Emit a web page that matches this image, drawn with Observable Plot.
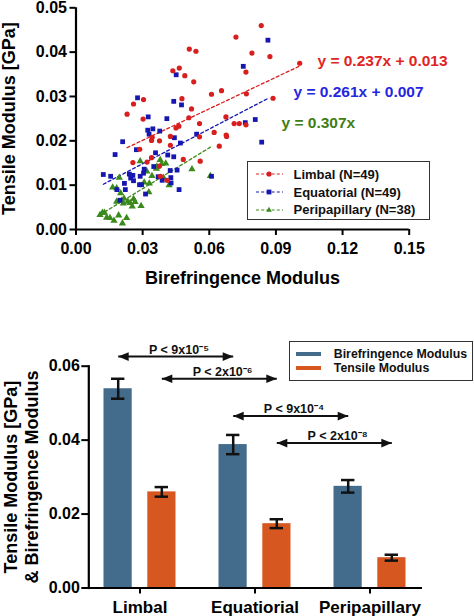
<!DOCTYPE html>
<html>
<head>
<meta charset="utf-8">
<script src="https://cdn.jsdelivr.net/npm/d3@7"></script>
<script src="https://cdn.jsdelivr.net/npm/@observablehq/plot@0.6"></script>
<style>
  body { margin: 0; background: #fff; font-family: "Liberation Sans", Arial, sans-serif; }
  #wrap { position: relative; width: 474px; height: 616px; overflow: hidden; }
  #wrap svg.plot { display: block; }
  .legend { position: absolute; box-sizing: border-box; border: 1.5px solid #333; background: #fff; font-weight: bold; color: #111; }
  .legend .row { position: absolute; display: flex; align-items: center; white-space: nowrap; }
</style>
</head>
<body>
<div id="wrap"></div>
<script>
// ---------------- Scatter data (top panel) ----------------
const series = ["Limbal", "Equatorial", "Peripapillary"];
const seriesN = [49, 49, 38];
const fitSlope = [0.237, 0.261, 0.307];
const fitIntercept = [0.013, 0.007, 0];
const fitLabels = ["y = 0.237x + 0.013", "y = 0.261x + 0.007", "y = 0.307x"];
const xTicks = [0, 0.03, 0.06, 0.09, 0.12, 0.15];
const yTicks = [0, 0.01, 0.02, 0.03, 0.04, 0.05];

const limbalX = [0.0834, 0.072, 0.051, 0.054, 0.0792, 0.0873, 0.1007, 0.0765, 0.0465, 0.0436,
  0.049, 0.053, 0.061, 0.0655, 0.0767, 0.0887, 0.0477, 0.0304, 0.0259, 0.023,
  0.052, 0.0508, 0.0302, 0.0675, 0.0463, 0.045, 0.0556, 0.0712, 0.0735, 0.0765,
  0.0622, 0.0676, 0.0678, 0.0556, 0.0425, 0.0343, 0.0376, 0.034, 0.0287, 0.0645,
  0.0425, 0.0483, 0.034, 0.0256, 0.0559, 0.032, 0.0376, 0.038, 0.041];
const limbalY = [0.046, 0.0434, 0.0407, 0.0402, 0.0398, 0.039, 0.0375, 0.0355, 0.0364, 0.0358,
  0.0347, 0.0333, 0.0305, 0.0313, 0.0306, 0.0296, 0.0295, 0.0293, 0.0283, 0.026,
  0.0272, 0.0252, 0.0249, 0.0254, 0.0233, 0.0229, 0.0239, 0.0239, 0.0239, 0.0236,
  0.0219, 0.0213, 0.021, 0.0209, 0.021, 0.0208, 0.02, 0.0201, 0.0181, 0.0188,
  0.019, 0.0158, 0.0162, 0.0151, 0.0154, 0.0152, 0.0143, 0.012, 0.0111];

const equatorialX = [0.0864, 0.0753, 0.0451, 0.0277, 0.044, 0.0475, 0.0325, 0.0409, 0.0807, 0.0762,
  0.0323, 0.0346, 0.0329, 0.0377, 0.0543, 0.021, 0.0443, 0.047, 0.0836, 0.0272,
  0.0176, 0.0358, 0.0413, 0.044, 0.035, 0.0307, 0.0123, 0.0156, 0.024, 0.0246,
  0.0304, 0.0424, 0.0455, 0.061, 0.037, 0.0289, 0.0427, 0.0259, 0.0388, 0.0218,
  0.0295, 0.0428, 0.0184, 0.0222, 0.0464, 0.0313, 0.0198, 0.0286, 0.0256];
const equatorialY = [0.0427, 0.0368, 0.0349, 0.0297, 0.0289, 0.0281, 0.0254, 0.025, 0.0248, 0.0241,
  0.0224, 0.0227, 0.0215, 0.0222, 0.0215, 0.0198, 0.0207, 0.0195, 0.0197, 0.018,
  0.0169, 0.0173, 0.0168, 0.0164, 0.0142, 0.0136, 0.0124, 0.012, 0.0125, 0.0116,
  0.0127, 0.0133, 0.0134, 0.012, 0.0119, 0.012, 0.0117, 0.011, 0.0111, 0.0104,
  0.0101, 0.0105, 0.009, 0.009, 0.009, 0.008, 0.0066, 0.0101, 0.0122];

const peripapillaryX = [0.0195, 0.0289, 0.0379, 0.0386, 0.0404, 0.0362, 0.0319, 0.0522, 0.0364, 0.033,
  0.0307, 0.0419, 0.0183, 0.0328, 0.0201, 0.0216, 0.0233, 0.0266, 0.0244, 0.0253,
  0.0293, 0.0183, 0.0213, 0.0108, 0.0119, 0.0128, 0.0138, 0.0153, 0.0171, 0.0192,
  0.0209, 0.0228, 0.0206, 0.0342, 0.0394, 0.0259, 0.0165, 0.0605];
const peripapillaryY = [0.0117, 0.0154, 0.0157, 0.0148, 0.0149, 0.0137, 0.0131, 0.0136, 0.0142, 0.0104,
  0.0106, 0.01, 0.0093, 0.0084, 0.0082, 0.007, 0.0063, 0.0062, 0.006, 0.0052,
  0.0053, 0.0063, 0.0059, 0.0033, 0.0038, 0.0038, 0.0027, 0.0026, 0.002, 0.0032,
  0.0014, 0.0026, 0.0065, 0.0121, 0.0117, 0.0069, 0.0095, 0.0121];

// ---------------- Bar data (bottom panel) ----------------
const regions = ["Limbal", "Equatiorial", "Peripapillary"];
const barSeries = ["Birefringence Modulus", "Tensile Modulus"];
const birefMean = [0.0539, 0.0388, 0.0275];
const birefSE = [0.0027, 0.0026, 0.0017];
const tensileMean = [0.0260, 0.0174, 0.0082];
const tensileSE = [0.0013, 0.0012, 0.0008];
const barTicks = [0, 0.02, 0.04, 0.06];
const compFrom = ["Limbal", "Limbal", "Equatiorial", "Equatiorial"];
const compTo = ["Equatiorial", "Equatiorial", "Peripapillary", "Peripapillary"];
const compSeries = ["Birefringence Modulus", "Tensile Modulus", "Birefringence Modulus", "Tensile Modulus"];
const compY = [0.0626, 0.0566, 0.0465, 0.0392];
const compBase = ["9x10", "2x10", "9x10", "2x10"];
const compExp = ["-5", "-6", "-4", "-8"];

// ---------------- Build ----------------
const FONT = "'Liberation Sans', Arial, sans-serif";
const scatterColors = ["#d81e1e", "#1616b0", "#3a8a1c"];
const labelColors = ["#e02424", "#2626e0", "#3f7d15"];
const symbols = ["circle", "square", "triangle"];
const barColors = ["#426b8c", "#d65820"];

const xsAll = [limbalX, equatorialX, peripapillaryX];
const ysAll = [limbalY, equatorialY, peripapillaryY];
const points = series.flatMap((s, i) => xsAll[i].map((x, j) => ({series: s, x, y: ysAll[i][j]})));
const fitLines = series.flatMap((s, i) => {
  const [x0, x1] = d3.extent(xsAll[i]);
  return [x0, x1].map(x => ({series: s, x, y: fitSlope[i] * x + fitIntercept[i]}));
});
const eqData = series.map((s, i) => ({series: s, label: fitLabels[i]}));

const wrap = document.getElementById("wrap");

const topChart = Plot.plot({
  width: 474, height: 300,
  marginLeft: 75.5, marginRight: 65.3, marginTop: 7.3, marginBottom: 71,
  x: {domain: [0, 0.15]},
  y: {domain: [0, 0.05]},
  color: {domain: series, range: scatterColors},
  style: {fontFamily: FONT, fontSize: "16px", fontWeight: "bold", color: "#000", background: "transparent"},
  marks: [
    Plot.axisX({ticks: xTicks, tickFormat: d3.format(".2f"), tickSize: 6, tickPadding: 7, strokeWidth: 2, label: null}),
    Plot.axisY({ticks: yTicks, tickFormat: d3.format(".2f"), tickSize: 6, tickPadding: 3, strokeWidth: 2, label: null}),
    Plot.line(fitLines, {x: "x", y: "y", z: "series", stroke: "series", strokeWidth: 1.3, strokeDasharray: "3,2.5"}),
    ...[2, 1, 0].map(i => Plot.dot(points.filter(d => d.series === series[i]),
      {x: "x", y: "y", fill: "series", symbol: () => symbols[i], r: i === 0 ? 2.6 : 2.7, stroke: "none"})),
    Plot.ruleY([0], {strokeWidth: 2.2}),
    Plot.ruleX([0], {strokeWidth: 2.2}),
    ...eqData.map((d, i) => Plot.text([d], {
      text: "label",
      x: [0.1087, 0.0979, 0.0925][i], y: [0.0381, 0.0311, 0.0239][i],
      textAnchor: "start", fill: labelColors[i], fontSize: 15.5, fontWeight: "bold"
    })),
    Plot.text(["Birefringence Modulus"], {frameAnchor: "bottom", textAnchor: "middle", lineAnchor: "middle", dy: 49, fontSize: 18, fontWeight: "bold"}),
    Plot.text(["Tensile Modulus [GPa]"], {frameAnchor: "left", textAnchor: "middle", lineAnchor: "middle", rotate: -90, dx: -67, fontSize: 18, fontWeight: "bold"})
  ]
});
topChart.classList.add("plot");
wrap.appendChild(topChart);

// bottom
const sup = {"-": "\u207B", "0": "\u2070", "1": "\u00B9", "2": "\u00B2", "3": "\u00B3", "4": "\u2074", "5": "\u2075", "6": "\u2076", "7": "\u2077", "8": "\u2078", "9": "\u2079"};
const toSup = s => [...s].map(c => sup[c] || c).join("");
const barData = regions.flatMap((r, i) => [
  {region: r, series: barSeries[0], mean: birefMean[i], se: birefSE[i]},
  {region: r, series: barSeries[1], mean: tensileMean[i], se: tensileSE[i]}
]);
const comps = compFrom.map((f, i) => ({from: f, to: compTo[i], series: compSeries[i], y: compY[i],
  label: "P < " + compBase[i] + toSup(compExp[i])}));

const arrowRight = {draw(ctx) { ctx.moveTo(0, 0); ctx.lineTo(-10.5, -4.3); ctx.lineTo(-10.5, 4.3); ctx.closePath(); }};
const arrowLeft = {draw(ctx) { ctx.moveTo(0, 0); ctx.lineTo(10.5, -4.3); ctx.lineTo(10.5, 4.3); ctx.closePath(); }};

const barMarks = barSeries.flatMap((s, k) => {
  const rows = barData.filter(d => d.series === s);
  const cmp = comps.filter(d => d.series === s);
  const off = k === 0 ? -21.8 : 21.8;
  const bIn = k === 0 ? [21.5, 65.3] : [65.3, 21.5];
  const cIn = k === 0 ? [29, 72.6] : [72.6, 29];
  return [
    Plot.barY(rows, {x: "region", y: "mean", fill: barColors[k], insetLeft: bIn[0], insetRight: bIn[1]}),
    Plot.ruleX(rows, {x: "region", y1: d => d.mean - d.se, y2: d => d.mean + d.se, dx: off, stroke: "#111", strokeWidth: 2.5}),
    Plot.tickY(rows, {x: "region", y: d => d.mean + d.se, insetLeft: cIn[0], insetRight: cIn[1], stroke: "#111", strokeWidth: 2.5}),
    Plot.tickY(rows, {x: "region", y: d => d.mean - d.se, insetLeft: cIn[0], insetRight: cIn[1], stroke: "#111", strokeWidth: 2.5}),
    Plot.link(cmp, {x1: "from", x2: "to", y1: "y", y2: "y", dx: off, stroke: "#111", strokeWidth: 2}),
    Plot.dot(cmp, {x: "from", y: "y", dx: off, symbol: arrowLeft, r: 4, fill: "#111", stroke: "none"}),
    Plot.dot(cmp, {x: "to", y: "y", dx: off, symbol: arrowRight, r: 4, fill: "#111", stroke: "none"}),
    Plot.text(cmp, {x: "from", y: "y", text: "label", dx: off + 57.8 + 3, dy: -3, lineAnchor: "bottom", fontSize: 12.5, fontWeight: "bold", fill: "#111"})
  ];
});

const bottomChart = Plot.plot({
  width: 474, height: 316,
  marginLeft: 88.3, marginRight: 52, marginTop: 65.7, marginBottom: 28.5,
  x: {domain: regions, range: [81.2, 428], padding: 0},
  y: {domain: [0, 0.06]},
  style: {fontFamily: FONT, fontSize: "16px", fontWeight: "bold", color: "#000", background: "transparent"},
  marks: [
    ...barMarks,
    Plot.axisX({tickSize: 6, tickPadding: 7, strokeWidth: 2, fontSize: 17, label: null}),
    Plot.axisY({ticks: barTicks, tickFormat: d3.format(".2f"), tickSize: 7, tickPadding: 2, strokeWidth: 2, label: null}),
    Plot.ruleY([0], {strokeWidth: 2.2}),
    Plot.frame({anchor: "left", strokeWidth: 2.2}),
    Plot.text(["Tensile Modulus [GPa]\n& Birefringence Modulus"], {frameAnchor: "left", textAnchor: "middle", lineAnchor: "middle", rotate: -90, dx: -67.8, fontSize: 18, lineHeight: 1.17, fontWeight: "bold"})
  ]
});
bottomChart.classList.add("plot");
wrap.appendChild(bottomChart);

// ---------------- Legends ----------------
function sampleSvg(i) {
  const c = scatterColors[i];
  let m = "";
  if (symbols[i] === "circle") m = `<circle cx="13" cy="5" r="2.6" fill="${c}"/>`;
  else if (symbols[i] === "square") m = `<rect x="10.6" y="2.6" width="4.8" height="4.8" fill="${c}"/>`;
  else m = `<path d="M13,1.8L15.8,6.8L10.2,6.8Z" fill="${c}"/>`;
  return `<svg width="27" height="10" style="display:block"><line x1="0" y1="5" x2="27" y2="5" stroke="${c}" stroke-width="1.2" stroke-dasharray="3,2.2"/>${m}</svg>`;
}
const leg1 = document.createElement("div");
leg1.className = "legend";
Object.assign(leg1.style, {left: "246.5px", top: "160.5px", width: "183px", height: "59.5px", fontSize: "13px"});
series.forEach((s, i) => {
  const row = document.createElement("div");
  row.className = "row";
  Object.assign(row.style, {left: "8px", top: [4.5, 22.5, 40][i] + "px", height: "16px"});
  row.innerHTML = sampleSvg(i) + `<span style="margin-left:11px">${s} (N=${seriesN[i]})</span>`;
  leg1.appendChild(row);
});
wrap.appendChild(leg1);

const leg2 = document.createElement("div");
leg2.className = "legend";
Object.assign(leg2.style, {left: "289.3px", top: "341px", width: "184px", height: "39.5px", fontSize: "12.3px"});
barSeries.forEach((s, k) => {
  const row = document.createElement("div");
  row.className = "row";
  Object.assign(row.style, {left: "6px", top: [4.5, 18.8][k] + "px", height: "15px"});
  row.innerHTML = `<span style="display:inline-block;width:24.5px;height:4px;background:${barColors[k]}"></span><span style="margin-left:13px">${s}</span>`;
  leg2.appendChild(row);
});
wrap.appendChild(leg2);
</script>
</body>
</html>
